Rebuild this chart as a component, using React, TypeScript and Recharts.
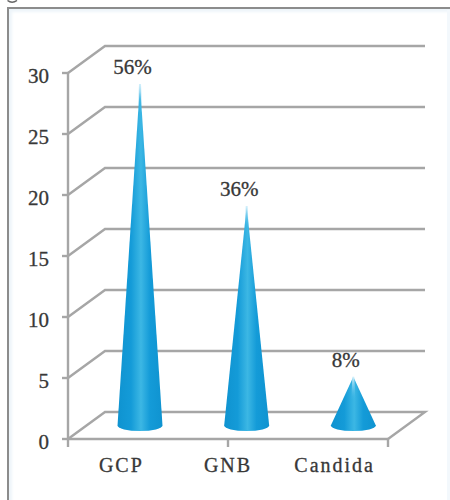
import React from "react";
import { BarChart, Bar, XAxis, YAxis, CartesianGrid, LabelList } from "recharts";

const categories = ["GCP", "GNB", "Candida"];
const counts = [28, 18, 4];
const shares = ["56%", "36%", "8%"];
const yTicks = [0, 5, 10, 15, 20, 25, 30];
const categoryEdges = [0, 1, 2, 3];

const data = categories.map((name, i) => ({ name, count: counts[i], share: shares[i] }));

const FONT = "'Liberation Serif', serif";
const INK = "#383838";
const LINE = "#a6a6a6";
const PLOT_BOTTOM = 439;
// oblique offset of the back wall from the front of the floor
const DEPTH_X = 37;
const DEPTH_Y = 27;

// each grid line runs up the side wall, then along the back wall
const wallLine = (props: any) => {
  const { x1, x2, y1, key } = props;
  const backY = y1 - DEPTH_Y;
  let d = `M${x1} ${y1}L${x1 + DEPTH_X} ${backY}L${x2 + DEPTH_X} ${backY}`;
  if (Math.abs(y1 - PLOT_BOTTOM) < 1) d += `L${x2} ${y1}`;
  return <path key={key} d={d} fill="none" stroke={LINE} strokeWidth={2.4} />;
};

// cone stands in the middle of the floor depth
const Cone = (props: any) => {
  const { x, y, width, height } = props;
  const cx = x + width / 2 + DEPTH_X / 2;
  const top = y - DEPTH_Y / 2;
  const base = y + height - DEPTH_Y / 2;
  const rx = width / 2;
  const ry = 5.5;
  return (
    <g>
      <path
        d={`M${cx} ${top}L${cx + rx} ${base}A${rx} ${ry} 0 0 1 ${cx - rx} ${base}Z`}
        fill="url(#coneBody)"
      />
      <path d={`M${cx - 1} ${top}L${cx + 1} ${top}L${cx + 2} ${top + 24}L${cx - 2} ${top + 24}Z`} fill="url(#coneTip)" />
    </g>
  );
};

const ShareLabel = (props: any) => {
  const { x, y, width, value } = props;
  return (
    <text
      x={x + width / 2 + 11}
      y={y - 23}
      textAnchor="middle"
      fontFamily={FONT}
      fontSize={21}
      fill={INK}
      stroke={INK}
      strokeWidth={0.3}
    >
      {value}
    </text>
  );
};

const NoTickText = () => <g />;

export default function App() {
  return (
    <div style={{ position: "absolute", left: 0, top: 0, width: 450, height: 500, overflow: "hidden", background: "#fff" }}>
      {/* stroke left over from the line above the frame */}
      <svg width={24} height={6} style={{ position: "absolute", left: 0, top: 0 }}>
        <path d="M7.5 0.5Q12 4 17 0.5" fill="none" stroke="#666" strokeWidth={1.5} />
      </svg>
      <div
        style={{
          position: "absolute",
          left: 7,
          top: 7,
          width: 446,
          height: 496,
          boxSizing: "border-box",
          borderTop: "2px solid #8c8c8c",
          borderLeft: "2px solid #8c8c8c",
          boxShadow: "inset 3px 3px 3px #eef5fa",
        }}
      />
      <div style={{ position: "absolute", left: 447, top: 10, width: 3, height: 490, background: "#f3f8fc" }} />
      <BarChart
        width={450}
        height={500}
        data={data}
        margin={{ top: 73, right: 62, bottom: 0, left: 0 }}
        barCategoryGap={0}
        style={{ position: "absolute", left: 0, top: 0 }}
      >
        <defs>
          <linearGradient id="coneBody" x1="0" y1="0" x2="1" y2="0">
            <stop offset="0" stopColor="#0f93d0" />
            <stop offset="0.3" stopColor="#149bd8" />
            <stop offset="0.52" stopColor="#3cb7e4" />
            <stop offset="0.72" stopColor="#149bd8" />
            <stop offset="1" stopColor="#0f93d0" />
          </linearGradient>
          <linearGradient id="coneTip" x1="0" y1="0" x2="0" y2="1">
            <stop offset="0" stopColor="#d4f0fb" />
            <stop offset="1" stopColor="#33b2e6" stopOpacity={0} />
          </linearGradient>
        </defs>
        <CartesianGrid xAxisId={1} vertical={false} horizontal={wallLine} />
        {/* tick marks sit between the categories, so they get their own axis */}
        <XAxis
          xAxisId={0}
          type="number"
          domain={[0, 3]}
          ticks={categoryEdges}
          interval={0}
          height={1}
          axisLine={{ stroke: LINE, strokeWidth: 2.4 }}
          tick={NoTickText}
          tickLine={{ stroke: LINE, strokeWidth: 2.4 }}
          tickSize={8}
        />
        <XAxis
          xAxisId={1}
          dataKey="name"
          height={60}
          axisLine={false}
          tickLine={false}
          tickSize={0}
          tickMargin={18}
          tick={{ fontFamily: FONT, fontSize: 20, fill: INK, stroke: INK, strokeWidth: 0.3, letterSpacing: 2 }}
        />
        <YAxis
          width={68}
          domain={[0, 30]}
          ticks={yTicks}
          interval={0}
          axisLine={{ stroke: LINE, strokeWidth: 2.4 }}
          tickLine={{ stroke: LINE, strokeWidth: 2.4 }}
          tickSize={6}
          tickMargin={13}
          tick={{ fontFamily: FONT, fontSize: 21, fill: INK, stroke: INK, strokeWidth: 0.3, dy: 3 }}
        />
        <Bar xAxisId={1} dataKey="count" barSize={45} shape={Cone} isAnimationActive={false}>
          <LabelList dataKey="share" content={ShareLabel} />
        </Bar>
      </BarChart>
    </div>
  );
}
